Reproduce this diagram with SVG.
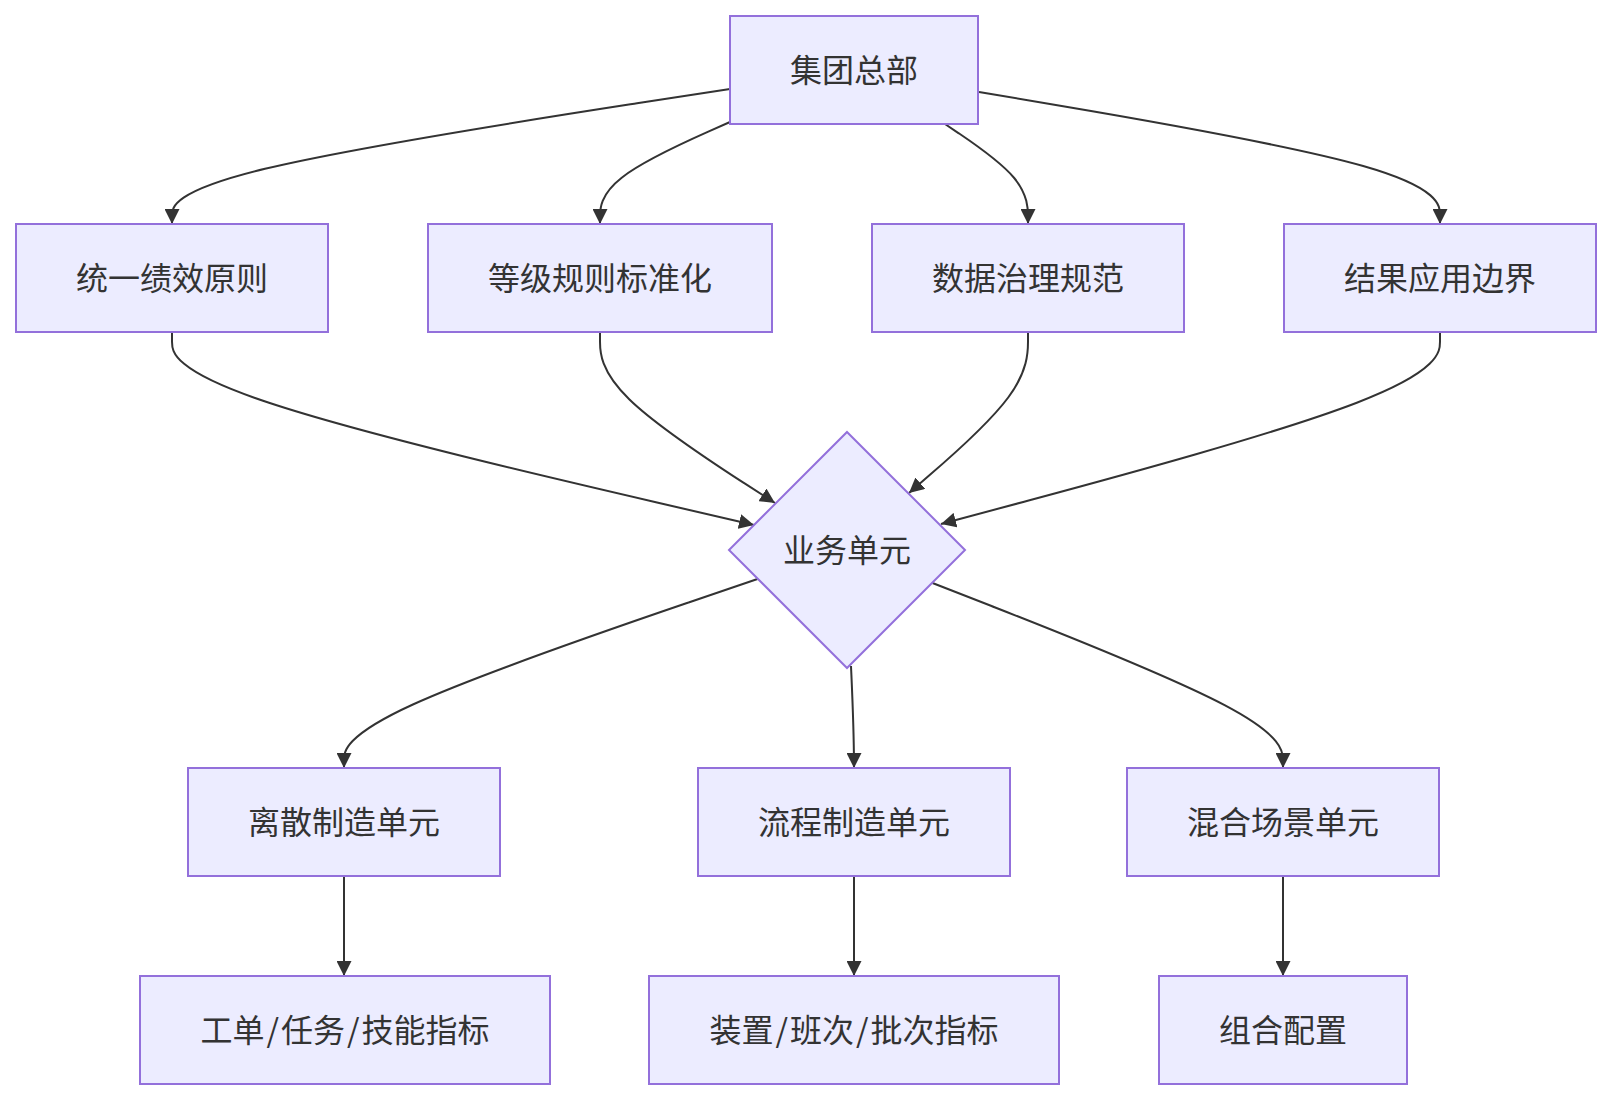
<svg xmlns="http://www.w3.org/2000/svg" width="1612" height="1100" viewBox="0 0 1612 1100">
<style>
.node rect, .node polygon { fill: #ECECFF; stroke: #9370DB; stroke-width: 2; }
.node text { font-family: "Noto Sans CJK SC", "Noto Sans", "Liberation Sans", sans-serif; font-size: 32px; fill: #333333; text-anchor: middle; dominant-baseline: central; }
.edge { fill: none; stroke: #333333; stroke-width: 2; marker-end: url(#arrow); }
</style>
<defs>
<marker id="arrow" viewBox="0 0 10 10" refX="10" refY="5" markerUnits="userSpaceOnUse" markerWidth="15" markerHeight="15" orient="auto">
<path d="M0,0 L10,5 L0,10 z" fill="#333333"/>
</marker>
</defs>
<rect width="1612" height="1100" fill="#ffffff"/>
<g id="edges">
<path class="edge" d="M730,89 L637,103.3 C544,117.7 358,146.3 265,168.8 C172,191.3 172,207.7 172,215.8 L172,224"/>
<path class="edge" d="M730,122 L708.3,131.7 C686.7,141.3 643.3,160.7 621.7,177.7 C600,194.7 600,209.3 600,216.7 L600,224"/>
<path class="edge" d="M945,124 L958.8,133.3 C972.7,142.7 1000.3,161.3 1014.2,178 C1028,194.7 1028,209.3 1028,216.7 L1028,224"/>
<path class="edge" d="M979,92 L1055.8,105 C1132.7,118 1286.3,144 1363.2,166 C1440,188 1440,206 1440,215 L1440,224"/>
<path class="edge" d="M172,332 L172,341.7 C172,351.3 172,370.7 269,402.8 C366,435 560,480 657,502.5 L754,525"/>
<path class="edge" d="M600,332 L600,341.7 C600,351.3 600,370.7 629.2,399.2 C658.3,427.7 716.7,465.3 745.8,484.2 L775,503"/>
<path class="edge" d="M1028,332 L1028,341.7 C1028,351.3 1028,370.7 1008.2,397.5 C988.3,424.3 948.7,458.7 928.8,475.8 L909,493"/>
<path class="edge" d="M1440,332 L1440,341.7 C1440,351.3 1440,370.7 1356.8,402.7 C1273.7,434.7 1107.3,479.3 1024.2,501.7 L941,524"/>
<path class="edge" d="M757.5,579 L688.6,602.5 C619.7,626 481.8,673 412.9,704.5 C344,736 344,752 344,760 L344,768"/>
<path class="edge" d="M851,666 C852.5,700 854,730 854,768"/>
<path class="edge" d="M932.5,583 L990.9,605.8 C1049.3,628.7 1166.2,674.3 1224.6,705.2 C1283,736 1283,752 1283,760 L1283,768"/>
<path class="edge" d="M344,876 L344,976"/>
<path class="edge" d="M854,876 L854,976"/>
<path class="edge" d="M1283,876 L1283,976"/>
</g>
<g id="n-hq" class="node"><rect x="730" y="16" width="248" height="108"/><text x="854" y="67.5">集团总部</text></g>
<g id="n-principle" class="node"><rect x="16" y="224" width="312" height="108"/><text x="172" y="275.5">统一绩效原则</text></g>
<g id="n-grade" class="node"><rect x="428" y="224" width="344" height="108"/><text x="600" y="275.5">等级规则标准化</text></g>
<g id="n-data" class="node"><rect x="872" y="224" width="312" height="108"/><text x="1028" y="275.5">数据治理规范</text></g>
<g id="n-result" class="node"><rect x="1284" y="224" width="312" height="108"/><text x="1440" y="275.5">结果应用边界</text></g>
<g id="n-bu" class="node"><polygon points="847,432 965,550 847,668 729,550"/><text x="847" y="548">业务单元</text></g>
<g id="n-discrete" class="node"><rect x="188" y="768" width="312" height="108"/><text x="344" y="819.5">离散制造单元</text></g>
<g id="n-process" class="node"><rect x="698" y="768" width="312" height="108"/><text x="854" y="819.5">流程制造单元</text></g>
<g id="n-mixed" class="node"><rect x="1127" y="768" width="312" height="108"/><text x="1283" y="819.5">混合场景单元</text></g>
<g id="n-kpi1" class="node"><rect x="140" y="976" width="410" height="108"/><text x="345" y="1027.5">工单<tspan dx="2">/</tspan><tspan dx="2">任务</tspan><tspan dx="2">/</tspan><tspan dx="2">技能指标</tspan></text></g>
<g id="n-kpi2" class="node"><rect x="649" y="976" width="410" height="108"/><text x="854" y="1027.5">装置<tspan dx="2">/</tspan><tspan dx="2">班次</tspan><tspan dx="2">/</tspan><tspan dx="2">批次指标</tspan></text></g>
<g id="n-combo" class="node"><rect x="1159" y="976" width="248" height="108"/><text x="1283" y="1027.5">组合配置</text></g>
</svg>
